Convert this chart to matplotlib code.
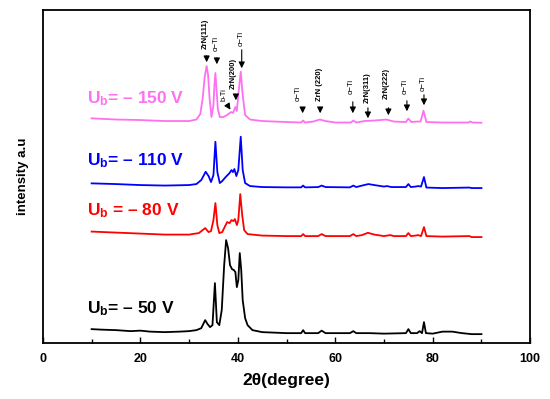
import matplotlib.pyplot as plt
from matplotlib.ticker import MultipleLocator

plt.rcParams['font.family'] = ['Liberation Sans', 'DejaVu Sans']
plt.rcParams['mathtext.fontset'] = 'custom'
plt.rcParams['mathtext.bf'] = 'Liberation Sans:bold'
plt.rcParams['mathtext.rm'] = 'Liberation Sans'

# Difratogramas (2theta, intensidade deslocada)
ang_50 = [10, 12, 15, 18, 20, 22, 25, 28, 30, 31.5, 32.5, 33.3, 33.8, 34.3, 34.8, 35.3, 35.7, 36.2, 36.7,
          37.2, 37.6, 38.0, 38.4, 38.8, 39.2, 39.5, 39.8, 40.1, 40.4, 40.7, 41.0, 41.5, 42.0, 43, 45, 50,
          53, 53.4, 53.8, 56.5, 57.2, 58, 63, 63.7, 64.3, 67, 70, 74.5, 75, 75.5, 76.8, 77.3, 77.8, 78.2,
          78.6, 80, 82, 84, 86, 88, 90]
int_50 = [14, 13.5, 13, 12, 12.5, 11.5, 11, 11.5, 12, 13, 15, 23, 19, 16, 18, 60, 21, 18, 33,
          78, 103, 95, 78, 74, 73, 71, 56, 63, 90, 73, 43, 25, 18, 13, 11, 10,
          10, 13, 10, 10, 12.5, 10, 10, 12, 10, 10, 9.5, 10, 14, 10, 10, 12, 10, 21,
          10, 9.5, 11.5, 11.5, 10, 9, 9]

ang_80 = [10, 15, 20, 25, 30, 32, 33.3, 34, 34.5, 35, 35.4, 35.8, 36.2, 36.8, 37.3, 37.8, 38.3, 38.7,
          39.1, 39.4, 39.8, 40.1, 40.5, 40.9, 41.3, 42, 45, 50, 53, 53.4, 53.8, 56.5, 57.2, 58, 63, 63.7,
          64.3, 65.5, 66.7, 68, 70, 71.3, 72, 74.5, 75, 75.5, 76.5, 77, 77.6, 78.2, 78.7, 82, 87.5, 88, 90]
int_80 = [111.5, 110.5, 109.5, 108.5, 108.5, 110, 115, 111, 112, 123, 140, 118, 110, 111, 116, 121, 120, 123,
          122, 124, 118, 123, 149, 128, 113, 109, 107.5, 107, 107, 109, 107, 107, 109, 107, 107, 109,
          107, 108, 110.3, 108.5, 107, 108, 107, 107, 110, 107, 107.5, 108, 107, 116, 107, 106.5, 107, 106, 106]

ang_110 = [10, 15, 20, 25, 30, 31.5, 32.5, 33.4, 34.0, 34.5, 35.0, 35.4, 35.8, 36.3, 36.8, 37.5, 38.3,
           38.7, 39.0, 39.3, 39.7, 40.1, 40.6, 41.0, 41.5, 42.5, 45, 50, 53, 53.4, 53.8, 56.5, 57.2, 58,
           63, 63.7, 64.3, 65.5, 66.8, 68, 70, 70.6, 71.5, 74.5, 75, 75.5, 76.5, 77, 77.6, 78.2, 78.7, 82,
           87.5, 88, 90]
int_110 = [159.7, 159, 158, 157.5, 158, 159, 163, 171.3, 167, 161, 168, 201.3, 171, 160, 162, 166, 170,
           173, 171, 174, 167, 173, 206.3, 173, 160, 157, 156, 155.7, 155.7, 157.5, 155.7, 156, 157.5, 156,
           155.7, 157.5, 156, 157.5, 159, 158, 156.5, 157, 156, 156, 159, 156, 156.5, 157, 156.5, 166, 155.5, 155,
           155.5, 155, 155]

ang_150 = [10, 15, 20, 25, 30, 31.5, 32.3, 32.8, 33.2, 33.6, 33.9, 34.2, 34.6, 35.0, 35.2, 35.4, 35.6, 35.9,
           36.3, 37, 37.8, 38.6, 39.0, 39.5, 39.8, 40.2, 40.6, 41.0, 41.5, 42.5, 45, 50, 53, 53.4, 53.8,
           55.5, 56.8, 58, 60, 63.2, 63.7, 64.3, 66, 68, 70.5, 72, 74.5, 75, 75.6, 76.8, 77.5, 78.1, 78.7,
           82, 87.3, 87.7, 88.2, 90]
int_150 = [224.7, 223.5, 223, 222, 222, 223.5, 229, 245, 266, 277, 268, 245, 226, 238, 258, 270, 256, 234,
           226, 226, 228, 231, 230, 236, 232, 253, 271.3, 248, 228, 223.5, 222, 221, 220.5, 222.5, 220.5,
           221.5, 223.5, 222, 220.5, 220.5, 222.5, 220.5, 222, 222.5, 223.5, 221.5, 221, 224.5, 221, 221.5, 221.5, 232.3, 221,
           220.5, 220.5, 221.5, 220.5, 220.3]

# Rotulos das curvas
rotulos = [r'$\mathbf{U_b}$= – 50 V', r'$\mathbf{U_b}$ = – 80 V', r'$\mathbf{U_b}$= – 110 V', r'$\mathbf{U_b}$= – 150 V']
cores = ['black', '#FF0000', '#0000FF', '#FF70F0']
rot_y = [30, 128, 178, 240]

# Identificacao dos picos (texto, x do texto, x da seta, base do texto, inicio e fim da seta)
picos_txt = ['ZrN(111)', 'α−Ti', 'b-Ti', 'ZrN(200)', 'α−Ti', 'α−Ti', 'ZrN (220)', 'α−Ti',
             'ZrN(311)', 'ZrN(222)', 'α−Ti', 'α−Ti']
picos_xt = [33.4, 35.6, 37.2, 39.1, 40.7, 52.4, 56.7, 63.2, 66.6, 70.4, 74.3, 78.0]
picos_xs = [33.6, 35.7, 37.6, 39.6, 40.8, 53.3, 56.9, 63.6, 66.7, 70.9, 74.7, 78.2]
picos_xp = [33.6, 35.7, 38.8, 39.6, 40.8, 53.3, 56.9, 63.6, 66.7, 70.9, 74.7, 78.2]
picos_yt = [294, 292, 242, 254, 297, 242, 242, 249, 240, 244, 249, 252]
picos_y0 = [290, 288, 240, 251, 296, 238, 238, 244, 238, 238, 245, 251]
picos_y1 = [278, 276, 231, 240, 272, 227, 227, 227, 222, 225, 229, 235]

fig = plt.figure(figsize=(5.5, 3.99), dpi=100)
ax = fig.add_axes([0.078, 0.14, 0.886, 0.835])

for ang, inten, cor in zip([ang_50, ang_80, ang_110, ang_150], [int_50, int_80, int_110, int_150], cores):
    ax.plot(ang, inten, color=cor, lw=1.3)

for txt, cor, y in zip(rotulos, cores, rot_y):
    ax.text(9.0, y, txt, color=cor, fontsize=12.5, fontweight='bold', va='baseline', ha='left')

for txt, xt, xs, xp, yt, y0, y1 in zip(picos_txt, picos_xt, picos_xs, picos_xp, picos_yt, picos_y0, picos_y1):
    negrito = 'bold' if txt.startswith('ZrN') else 'normal'
    ax.text(xt, yt, txt, rotation=90, fontsize=5.5, fontweight=negrito, ha='center', va='bottom')
    ax.annotate('', xy=(xp, y1), xytext=(xs, y0),
                arrowprops=dict(arrowstyle='-|>', color='black', lw=0.8, mutation_scale=9))

ax.set_xlim(0, 100)
ax.set_ylim(0, 333)
ax.set_yticks([])
ax.xaxis.set_major_locator(MultipleLocator(20))
ax.xaxis.set_minor_locator(MultipleLocator(10))
ax.tick_params(axis='x', which='major', direction='in', length=4.5, width=1, labelsize=9, pad=7)
ax.tick_params(axis='x', which='minor', direction='in', length=3, width=1)
for lbl in ax.get_xticklabels():
    lbl.set_fontweight('bold')
for s in ax.spines.values():
    s.set_linewidth(1.3)

ax.set_xlabel('2θ(degree)', fontsize=12.5, fontweight='bold', labelpad=6)
ax.set_ylabel('intensity a.u', fontsize=9.5, fontweight='bold', labelpad=10)

plt.savefig('out.png', dpi=100)
